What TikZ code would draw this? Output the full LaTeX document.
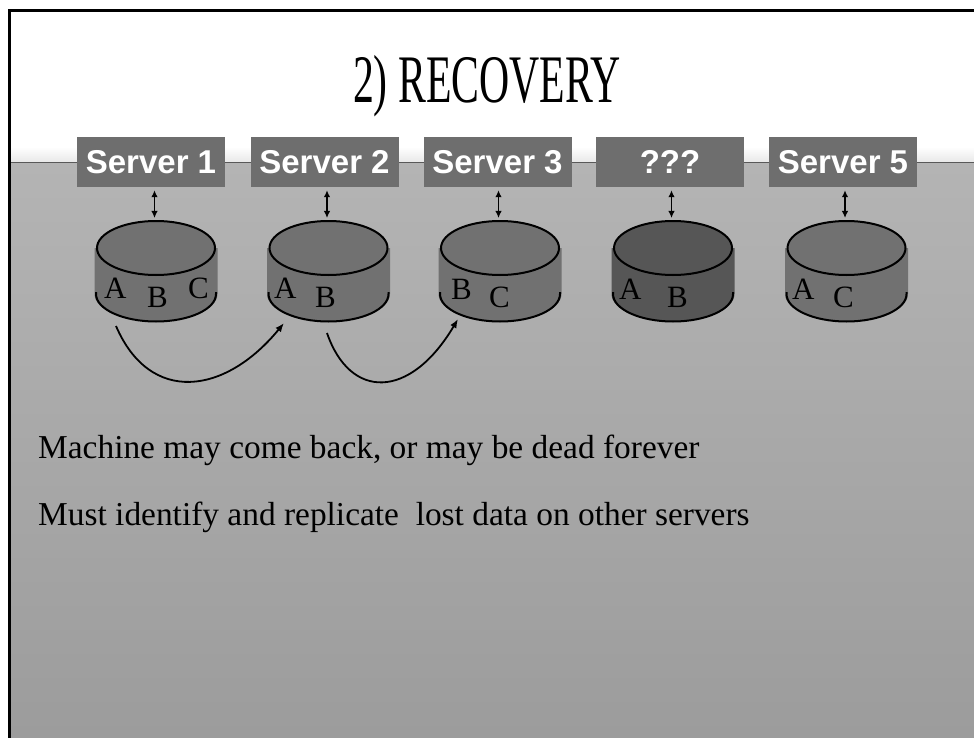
\documentclass[tikz,border=0pt]{standalone}
\usepackage{fontspec}
\usepackage{graphicx}
\setmainfont{Liberation Serif}
\newfontfamily\srvfont{Liberation Sans}
\usetikzlibrary{arrows.meta}
\definecolor{slidetop}{RGB}{180,180,180}
\definecolor{slidebot}{RGB}{156,156,156}
\definecolor{boxgray}{RGB}{110,110,110}
\definecolor{diskgray}{RGB}{113,113,113}
\definecolor{deadgray}{RGB}{86,86,86}
\tikzset{
	srvbox/.style={fill=boxgray, text=white, minimum width=148pt, minimum height=50pt, inner sep=0pt, font=\srvfont\bfseries\fontsize{33}{36}\selectfont},
	tag/.style={anchor=base west, inner sep=0pt, font=\fontsize{31}{31}\selectfont},
	bullet/.style={anchor=base west, inner sep=0pt, font=\fontsize{33.4}{36}\selectfont},
	duplex/.style={{Latex[length=7pt,width=6.5pt]}-{Latex[length=7pt,width=6.5pt]}, line width=1.8pt, shorten <=3pt},
	copyarc/.style={-{Latex[length=9pt,width=7pt]}, line width=1.8pt}
}
\def\disk[#1](#2){%
	\begin{scope}[shift={(#2)}]
		\fill[#1] (-61.5,0) -- (-61.5,46) arc (180:0:61.5 and 27.5) -- (61.5,0) -- cycle;
		\draw[line width=2pt] (-60,44) -- (-60,46) arc (180:0:60 and 27.5) -- (60,44);
		\draw[line width=2pt, fill=#1] (0,0) ellipse (59 and 27);
	\end{scope}}

\begin{document}
\begin{tikzpicture}[x=1pt, y=-1pt]
			%%%%% START %%%%%
			\useasboundingbox (0,0) rectangle (974,738);
			\fill[white] (0,0) rectangle (974,738);
			
			\shade[top color=slidetop, bottom color=slidebot] (11,162) rectangle (974,738);
			\shade[top color=white, bottom color=black!9] (11,147) rectangle (974,162);
			\draw[line width=1.5pt, color=black!65] (11,162.5) -- (974,162.5);
			\draw[line width=3pt] (9.5,738) -- (9.5,10.3) -- (974,10.3);
			
			\node[anchor=base, inner sep=0pt, font=\fontsize{68}{70}\selectfont] (title) at (487,103) {\scalebox{0.614}[1]{2) RECOVERY}};
			
			\node[srvbox] (sv1) at (151,162) {Server 1};
			\node[srvbox] (sv2) at (324.5,162) {Server 2};
			\node[srvbox] (sv3) at (497.5,162) {Server 3};
			\node[srvbox] (sv4) at (670,162) {???};
			\node[srvbox] (sv5) at (843,162) {Server 5};
			
			\disk[diskgray](156,248);
			\disk[diskgray](328.5,248);
			\disk[diskgray](500,248);
			\disk[deadgray](673,248);
			\disk[diskgray](846.5,248);
			
			\coordinate (top1) at (154.5,218);
			\coordinate (top2) at (327,218);
			\coordinate (top3) at (498.5,218);
			\coordinate (top4) at (671.5,218);
			\coordinate (top5) at (845,218);
			\draw[duplex] (sv1.south -| top1) -- (top1);
			\draw[duplex] (sv2.south -| top2) -- (top2);
			\draw[duplex] (sv3.south -| top3) -- (top3);
			\draw[duplex] (sv4.south -| top4) -- (top4);
			\draw[duplex] (sv5.south -| top5) -- (top5);
			
			\node[tag] (a1) at (104,298) {A};
			\node[tag] (b1) at (147,307) {B};
			\node[tag] (c1) at (188,298) {C};
			\node[tag] (a2) at (274,298) {A};
			\node[tag] (b2) at (315,307) {B};
			\node[tag] (b3) at (451,299) {B};
			\node[tag] (c3) at (489,307) {C};
			\node[tag] (a4) at (619,299) {A};
			\node[tag] (b4) at (667,307) {B};
			\node[tag] (a5) at (792,299) {A};
			\node[tag] (c5) at (833,307) {C};
			
			\coordinate (out1) at (116,326);
			\coordinate (in2) at (284,323);
			\coordinate (out2) at (327,333);
			\coordinate (in3) at (458,319);
			\draw[copyarc] (out1) .. controls (150,405) and (225,395) .. (in2);
			\draw[copyarc] (out2) .. controls (350,400) and (410,400) .. (in3);
			
			\node[bullet] (line1) at (38,458) {Machine may come back, or may be dead forever};
			\node[bullet] (line2) at (38,525) {Must identify and replicate\ \ lost data on other servers};
			%%%%% END %%%%%
\end{tikzpicture}
\end{document}
